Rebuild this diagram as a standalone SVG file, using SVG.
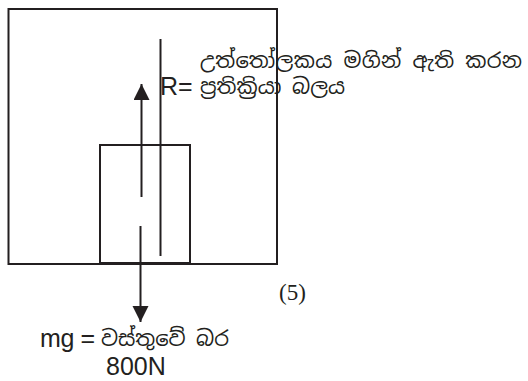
<svg xmlns="http://www.w3.org/2000/svg" width="528" height="381" viewBox="0 0 528 381">
<style>
.ln{stroke:#231f20;stroke-width:2;fill:none}
.lat{font-family:"Liberation Sans",Arial,sans-serif;font-size:25px;fill:#231f20}
.si{font-family:"Noto Sans Sinhala","Iskoola Pota","Noto Sans",sans-serif;font-size:21px;fill:#231f20}
.tm{font-family:"Liberation Serif","Times New Roman",serif;font-size:23px;fill:#231f20}
</style>
<defs>
<marker id="ah" markerWidth="16" markerHeight="17" refX="16" refY="8" orient="auto" markerUnits="userSpaceOnUse">
<path d="M0,0 L16,8 L0,16 Z" fill="#231f20"/>
</marker>
</defs>
<rect width="528" height="381" fill="#fff"/>
<g id="outer-box"><rect class="ln" x="8.5" y="9" width="268.5" height="255"/></g>
<g id="block"><rect class="ln" x="100" y="145" width="90" height="118"/></g>
<g id="connectors">
<line class="ln" x1="160.5" y1="39" x2="160.5" y2="256"/>
<line class="ln" x1="141.5" y1="197" x2="141.5" y2="84" marker-end="url(#ah)"/>
<line class="ln" x1="140.5" y1="226" x2="140.5" y2="322" marker-end="url(#ah)"/>
</g>
<g id="label-R">
<text class="si" x="200" y="68" textLength="322" lengthAdjust="spacing">උත්තෝලකය මගින් ඇති කරන</text>
<text class="lat" x="160" y="95">R=</text>
<text class="si" x="200" y="94">ප්‍රතික්‍රියා බලය</text>
</g>
<g id="label-mg">
<text class="lat" x="40" y="347" textLength="55">mg =</text>
<text class="si" x="101" y="346">වස්තුවේ බර</text>
<text class="lat" x="106" y="375">800N</text>
</g>
<g id="label-5"><text class="tm" x="279" y="300">(5)</text></g>
</svg>
